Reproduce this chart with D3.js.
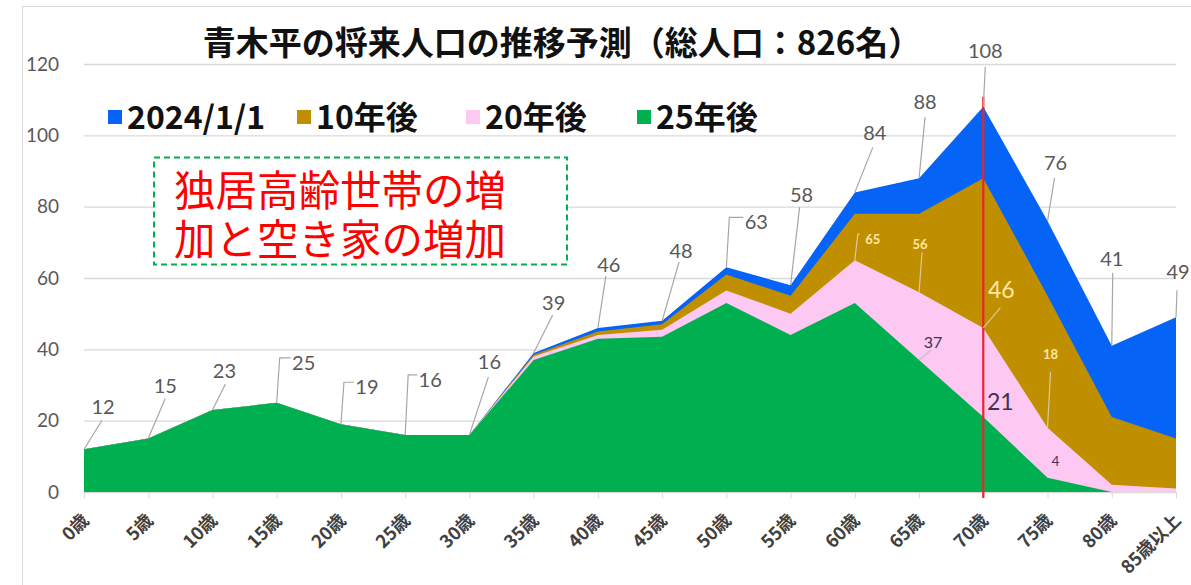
<!DOCTYPE html>
<html><head><meta charset="utf-8">
<script src="https://cdn.jsdelivr.net/npm/d3@7"></script>
<style>body{margin:0;background:#fff;} svg{display:block}</style>
</head><body>
<svg id="c" width="1191" height="585"></svg>
<script>
// ---------- data ----------
const ages = ["0歳","5歳","10歳","15歳","20歳","25歳","30歳","35歳","40歳","45歳","50歳","55歳","60歳","65歳","70歳","75歳","80歳","85歳以上"];
const pop2024 = [12,15,23,25,19,16,16,39,46,48,63,58,84,88,108,76,41,49];
const pop10y  = [12,15,23,25,19,16,16,38.5,45,47,61,55,78,78,88,55,21,15];
const pop20y  = [12,15,23,25,19,16,16,38,44,45.5,56.5,50,65,56,46,18,2,1];
const pop25y  = [12,15,23,25,19,16,16,37,43,43.5,53,44,53,37,21,4,0,0];
const seriesNames = ["2024/1/1","10年後","20年後","25年後"];
const yTicks = [0,20,40,60,80,100,120];
const titleText = "青木平の将来人口の推移予測（総人口：826名）";
const noteLines = ["独居高齢世帯の増","加と空き家の増加"];
const highlightAge = "70歳";
const labeled20y = [12,13,14,15];
const labeled25y = [13,14,15];

// ---------- style / layout ----------
const colors = ["#0563f5","#bf8f00","#fdc8f2","#00b050"];
const plot = {left:84, right:1176, top:64, bottom:492};
const fontLatin = "Lato, 'Noto Sans CJK JP', sans-serif";
const fontJP = "'Noto Sans CJK JP', 'Noto Sans', sans-serif";

// label offsets relative to the data point (s = straight leader, e = elbow leader)
const layout2024 = [
 {dx:19,dy:-42,t:"s",ex:18,ey:-29},{dx:17,dy:-53,t:"s",ex:17,ey:-40},{dx:12,dy:-39,t:"s",ex:13,ey:-26},
 {dx:27,dy:-40,t:"e"},{dx:26,dy:-37,t:"e"},{dx:25,dy:-55,t:"e"},
 {dx:20,dy:-73,t:"s",ex:19,ey:-58},{dx:20,dy:-50,t:"s",ex:19,ey:-38},{dx:11,dy:-63,t:"s",ex:8,ey:-52},
 {dx:19,dy:-70,t:"s",ex:17,ey:-59},{dx:30,dy:-45,t:"e"},{dx:11,dy:-90,t:"s",ex:9,ey:-78},
 {dx:20,dy:-59,t:"s",ex:18,ey:-45},{dx:6,dy:-76,t:"s",ex:6,ey:-61},{dx:2,dy:-56,t:"s",ex:2,ey:-40},
 {dx:8,dy:-58,t:"s",ex:7,ey:-43},{dx:0,dy:-87,t:"s",ex:1,ey:-73},{dx:2,dy:-45,t:"s",ex:1,ey:-27}
];
const layout20y = [
 {dx:18,dy:-21,t:"e",size:13,bold:true},{dx:1,dy:-48,t:"s",ex:3,ey:-40,size:13,bold:true},
 {dx:18,dy:-38,t:"s",ex:17,ey:-20,size:23},{dx:3,dy:-73,t:"s",ex:3,ey:-56,size:13,bold:true}
];
const layout25y = [
 {dx:14,dy:-18,t:"s",ex:12,ey:-10,size:16},{dx:17,dy:-15,t:"n",size:23},{dx:8,dy:-16,t:"n",size:13}
];

const svg = d3.select("#c");
const x = d3.scalePoint().domain(ages).range([plot.left, plot.right]);
const y = d3.scaleLinear().domain([0,120]).range([plot.bottom, plot.top]);

// frame
svg.append("rect").attr("x",22.5).attr("y",6.5).attr("width",1200).attr("height",620)
  .attr("fill","#fff").attr("stroke","#d9d9d9");

// gridlines
svg.append("g").attr("transform",`translate(${plot.left},0)`)
  .call(d3.axisLeft(y).tickValues(yTicks).tickSize(-(plot.right-plot.left)).tickFormat(""))
  .call(g=>g.select(".domain").remove())
  .call(g=>g.selectAll("line").attr("stroke","#d9d9d9").attr("stroke-width",1.3));

// y labels
svg.append("g").attr("transform",`translate(${plot.left},0)`)
  .call(d3.axisLeft(y).tickValues(yTicks).tickSize(0).tickPadding(25))
  .call(g=>g.select(".domain").remove())
  .call(g=>g.selectAll("text").attr("font-family",fontLatin).attr("font-size",19).attr("fill","#595959"));

// areas (overlapping, largest behind)
const allSeries = [pop2024,pop10y,pop20y,pop25y];
const area = d3.area().x((d,i)=>x(ages[i])).y0(y(0)).y1(d=>y(d));
allSeries.forEach((s,k)=>{
  svg.append("path").datum(s).attr("d",area).attr("fill",colors[k]);
});

// x axis
svg.append("g").attr("transform",`translate(0,${plot.bottom})`)
  .call(d3.axisBottom(x).tickSize(6))
  .call(g=>g.select(".domain").attr("stroke","#d9d9d9"))
  .call(g=>g.selectAll(".tick line").attr("stroke","#d9d9d9"))
  .call(g=>g.selectAll("text").attr("font-family",fontJP).attr("font-weight","bold")
     .attr("font-size",18).attr("fill","#404040").attr("text-anchor","end")
     .attr("x",0).attr("y",0).attr("dy","0.35em")
     .attr("transform","translate(1,25) rotate(-45)"));

// highlight red line
svg.append("line").attr("x1",x(highlightAge)).attr("x2",x(highlightAge))
  .attr("y1",y(d3.max(pop2024))-10).attr("y2",plot.bottom+6)
  .attr("stroke","#e8262a").attr("stroke-width",2.2);

// data labels
function drawLabels(series, idxs, lay, color, leadColor, defSize){
  idxs.forEach((i,k)=>{
    const L = lay[k];
    const px = x(ages[i]), py = y(series[i]);
    const g = svg.append("g");
    if(L.t==="s"){
      g.append("line").attr("x1",px).attr("y1",py).attr("x2",px+L.ex).attr("y2",py+L.ey)
       .attr("stroke",leadColor).attr("stroke-width",1.2);
    } else if(L.t==="e"){
      g.append("polyline").attr("points",`${px},${py} ${px+3},${py+L.dy-5} ${px+L.dx-13},${py+L.dy-5}`)
       .attr("fill","none").attr("stroke",leadColor).attr("stroke-width",1.2);
    }
    g.append("text").attr("x",px+L.dx).attr("y",py+L.dy).attr("dy","0.35em")
     .attr("text-anchor","middle").attr("font-family",fontLatin)
     .attr("font-size",L.size||defSize).attr("font-weight",L.bold?"bold":"normal")
     .attr("fill",color).text(series[i]);
  });
}
drawLabels(pop2024, d3.range(ages.length), layout2024, "#595959", "#a6a6a6", 20);
drawLabels(pop20y, labeled20y, layout20y, "#ffe8a0", "#d9c9a0", 13);
drawLabels(pop25y, labeled25y, layout25y, "#403152", "#c0c0c0", 16);

// title
svg.append("text").attr("x",562).attr("y",55).attr("text-anchor","middle")
  .attr("font-family",fontJP).attr("font-weight","bold").attr("font-size",33)
  .attr("fill","#111").text(titleText);

// legend
const legX = [108,297,466,637];
seriesNames.forEach((n,k)=>{
  svg.append("rect").attr("x",legX[k]).attr("y",110).attr("width",14).attr("height",14).attr("fill",colors[k]);
  svg.append("text").attr("x",legX[k]+19).attr("y",117).attr("dy","0.36em")
    .attr("font-family",fontJP).attr("font-weight","bold").attr("font-size",32)
    .attr("fill","#111").text(n);
});

// note box
svg.append("rect").attr("x",154).attr("y",157.5).attr("width",413).attr("height",107)
  .attr("fill","#fff").attr("stroke","#00b050").attr("stroke-width",2).attr("stroke-dasharray","6,4");
noteLines.forEach((t,k)=>{
  svg.append("text").attr("x",174).attr("y",206+k*49).attr("font-family",fontJP)
    .attr("font-size",41.5).attr("fill","#ff0000").text(t);
});
</script>
</body></html>
